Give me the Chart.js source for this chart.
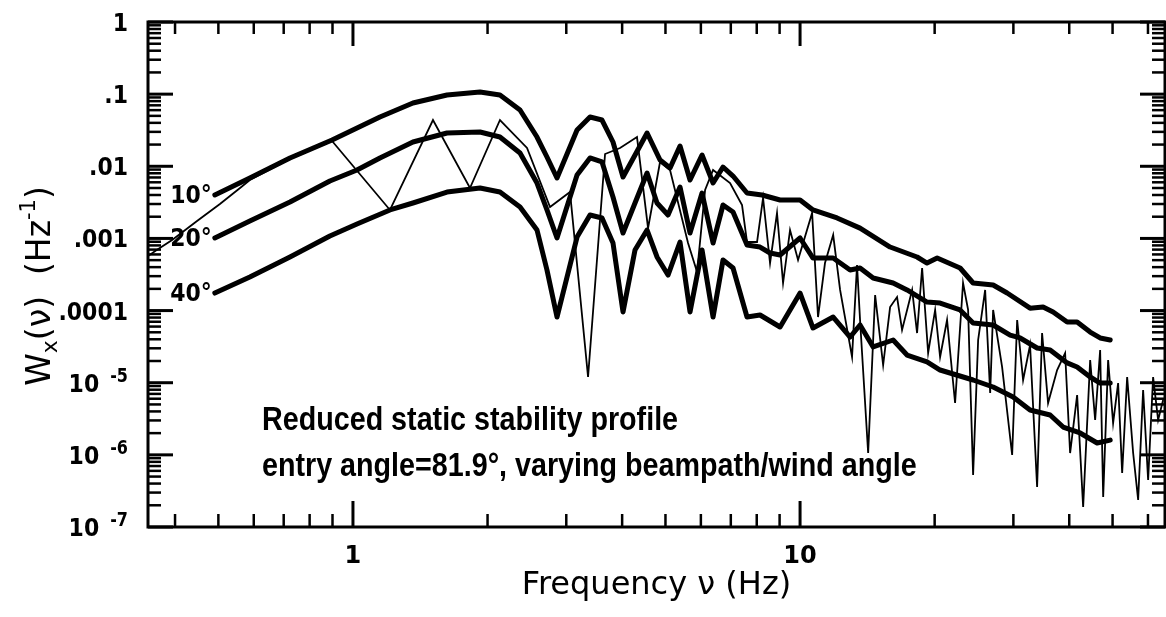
<!DOCTYPE html>
<html>
<head>
<meta charset="utf-8">
<title>W_x spectrum</title>
<script src="https://cdn.jsdelivr.net/npm/chart.js@4.4.1/dist/chart.umd.min.js"></script>
<style>
  html, body { margin: 0; padding: 0; background: #fff; }
  #chart { display: block; }
</style>
</head>
<body>
<canvas id="chart" width="1166" height="617"></canvas>
<script>
// model curves (thick)
const freq10 = [0.491, 0.588, 0.723, 0.898, 1.149, 1.362, 1.623, 1.924, 2.132, 2.364, 2.580, 2.716, 2.860, 3.171, 3.390, 3.606, 3.816, 4.018, 4.548, 4.862, 5.119, 5.389, 5.674, 6.036, 6.389, 6.725, 7.081, 7.610, 8.222, 9.022, 10.0, 10.69, 12.10, 13.62, 15.90, 18.27, 19.23, 20.26, 22.80, 24.38, 27.03, 29.05, 32.69, 34.96, 36.81, 39.57, 41.66, 44.55, 46.90, 49.39];
const w10 = [0.00400, 0.00688, 0.01303, 0.02313, 0.0482, 0.0754, 0.0973, 0.1071, 0.0973, 0.0603, 0.02545, 0.01345, 0.00688, 0.03184, 0.0482, 0.0438, 0.02171, 0.00710, 0.02893, 0.01222, 0.00946, 0.01911, 0.00645, 0.01433, 0.00586, 0.00977, 0.00733, 0.00426, 0.00400, 0.00341, 0.00341, 0.00248, 0.00192, 0.00139, 0.000760, 0.000553, 0.000456, 0.000535, 0.000389, 0.000241, 0.000226, 0.000175, 0.000108, 0.000112, 0.0000955, 0.0000694, 0.0000694, 0.0000504, 0.0000417, 0.0000391];

const freq20 = [0.491, 0.588, 0.723, 0.888, 1.021, 1.149, 1.362, 1.623, 1.924, 2.132, 2.364, 2.580, 2.716, 2.860, 3.171, 3.390, 3.606, 3.816, 4.018, 4.274, 4.548, 4.787, 5.066, 5.389, 5.674, 6.036, 6.389, 6.725, 7.081, 7.610, 8.137, 8.568, 9.022, 10.0, 10.69, 11.86, 12.94, 13.62, 14.57, 16.15, 17.35, 19.23, 20.57, 22.80, 24.38, 27.03, 29.50, 31.06, 33.90, 36.25, 39.57, 41.66, 44.55, 46.90, 49.39];
const w20 = [0.001014, 0.001743, 0.003197, 0.006249, 0.00888, 0.01303, 0.02171, 0.02893, 0.02987, 0.02545, 0.01528, 0.00586, 0.00248, 0.001014, 0.00757, 0.01303, 0.01147, 0.003751, 0.001189, 0.003097, 0.008069, 0.003097, 0.002112, 0.005162, 0.001189, 0.00426, 0.000864, 0.002906, 0.002324, 0.000811, 0.000760, 0.000628, 0.000589, 0.001014, 0.000535, 0.000535, 0.000365, 0.000389, 0.000283, 0.000241, 0.000193, 0.000131, 0.000127, 0.000102, 0.0000672, 0.0000631, 0.0000458, 0.0000417, 0.0000303, 0.0000284, 0.0000188, 0.0000165, 0.0000120, 0.0000099, 0.0000099];

const freq40 = [0.491, 0.588, 0.723, 0.888, 1.021, 1.210, 1.362, 1.623, 1.924, 2.132, 2.364, 2.580, 2.716, 2.860, 3.171, 3.390, 3.606, 3.816, 4.018, 4.274, 4.548, 4.787, 5.066, 5.389, 5.674, 6.036, 6.389, 6.725, 7.081, 7.610, 8.137, 9.022, 10.0, 10.69, 11.86, 12.94, 13.62, 14.57, 16.15, 17.35, 19.23, 20.57, 24.38, 27.03, 29.96, 32.69, 36.25, 38.76, 42.30, 46.18, 49.39];
const w40 = [0.000175, 0.000292, 0.000553, 0.001080, 0.001585, 0.00248, 0.003097, 0.00440, 0.00500, 0.00440, 0.002725, 0.001308, 0.000365, 0.0000814, 0.001046, 0.002112, 0.00192, 0.000864, 0.0000955, 0.000691, 0.001308, 0.000553, 0.000311, 0.000892, 0.0000955, 0.000691, 0.0000814, 0.000502, 0.000389, 0.0000814, 0.0000868, 0.0000592, 0.000175, 0.0000573, 0.0000814, 0.0000430, 0.0000631, 0.0000313, 0.0000391, 0.0000242, 0.0000194, 0.0000150, 0.0000109, 0.00000872, 0.00000633, 0.00000418, 0.00000357, 0.00000243, 0.00000201, 0.00000146, 0.00000160];

// measured spectrum (thin line)
const freqObs = [0.348, 0.364, 0.394, 0.448, 0.504, 0.559, 0.588, 0.723, 0.898, 1.210, 1.510, 1.827, 2.132, 2.451, 2.759, 3.058, 3.356, 3.663, 3.957, 4.318, 4.571, 4.862, 5.119, 5.616, 5.884, 6.132, 6.389, 6.973, 7.417, 7.610, 8.013, 8.265, 8.568, 8.881, 9.162, 9.497, 9.897, 10.64, 10.97, 11.37, 11.86, 12.29, 13.07, 13.41, 13.62, 14.20, 14.72, 15.34, 15.90, 16.48, 16.91, 17.81, 18.27, 18.75, 19.34, 20.05, 20.57, 21.32, 22.22, 23.15, 23.76, 24.38, 25.02, 25.94, 26.62, 27.03, 28.31, 29.81, 30.59, 31.54, 32.69, 33.90, 34.78, 35.87, 37.58, 39.16, 40.18, 41.66, 42.97, 44.55, 45.71, 46.90, 47.64, 48.87, 50.14, 51.45, 52.53, 53.90, 55.59, 57.04, 58.52, 60.05, 61.61, 63.22, 64.87];
const wObs = [0.000571, 0.000691, 0.000951, 0.001743, 0.003000, 0.00500, 0.00645, 0.01262, 0.02241, 0.00248, 0.0438, 0.00500, 0.0438, 0.01793, 0.002725, 0.00440, 0.0000120, 0.01480, 0.01793, 0.02545, 0.00139, 0.01147, 0.00888, 0.000864, 0.000342, 0.00469, 0.00888, 0.00586, 0.002906, 0.000892, 0.000892, 0.003634, 0.000456, 0.002251, 0.000241, 0.001308, 0.000502, 0.002251, 0.0000814, 0.000456, 0.001115, 0.000193, 0.0000227, 0.000428, 0.0000740, 1.06e-6, 0.000164, 0.0000176, 0.000112, 0.000154, 0.0000538, 0.000193, 0.0000488, 0.000389, 0.0000258, 0.000102, 0.0000227, 0.0000740, 0.00000523, 0.000241, 0.000102, 5.25e-7, 0.0000391, 0.000193, 0.0000072, 0.000102, 0.0000165, 9.95e-7, 0.0000740, 0.0000109, 0.0000333, 3.58e-7, 0.0000488, 0.00000523, 0.0000150, 0.0000258, 1.06e-6, 0.00000675, 1.89e-7, 0.0000206, 0.00000304, 0.0000284, 2.60e-7, 0.0000206, 0.00000276, 0.0000099, 5.60e-7, 0.0000120, 1.06e-6, 2.37e-7, 0.00000792, 4.48e-7, 0.0000120, 0.00000304, 0.00000576];

const curveLabels = ['10°', '20°', '40°'];

// axes
const X_MIN = 0.348, X_MAX = 65.5;
const Y_MIN = 1e-7, Y_MAX = 1;
const xMajorTicks = [1, 10];
const xTickLabels = ['1', '10'];
const xMinorTicks = [0.4, 0.5, 0.6, 0.7, 0.8, 0.9, 2, 3, 4, 5, 6, 7, 8, 9, 20, 30, 40, 50, 60];
const yMajorTicks = [1, 0.1, 0.01, 0.001, 1e-4, 1e-5, 1e-6, 1e-7];
const yTickLabels = ['1', '.1', '.01', '.001', '.0001', '10', '10', '10'];
const yTickExps = ['', '', '', '', '', '-5', '-6', '-7'];
const yMinorTicks = [];
for (let e = -7; e < 0; e++) {
  for (let m = 2; m <= 9; m++) yMinorTicks.push(m * Math.pow(10, e));
}

const noteLines = ['Reduced static stability profile', 'entry angle=81.9°, varying beampath/wind angle'];
const xTitle = 'Frequency ν (Hz)';

const FONT = "'DejaVu Sans', sans-serif";

function pts(xs, ys) {
  return xs.map((x, i) => ({ x, y: ys[i] }));
}

function thick(data) {
  return {
    data,
    borderColor: '#000',
    borderWidth: 5,
    pointRadius: 0,
    tension: 0,
    borderJoinStyle: 'round',
    borderCapStyle: 'round',
    fill: false,
  };
}

// text a bit taller than the font, like the plotter lettering
function tallText(ctx, text, x, y, sy) {
  ctx.save();
  ctx.translate(x, y);
  ctx.scale(1, sy);
  ctx.fillText(text, 0, 0);
  ctx.restore();
}

const decor = {
  id: 'decor',
  afterDraw(chart) {
    const { ctx, chartArea: a, scales: { x, y } } = chart;
    ctx.save();
    ctx.strokeStyle = '#000';
    ctx.fillStyle = '#000';
    ctx.lineCap = 'butt';

    function line(x1, y1, x2, y2, w) {
      ctx.lineWidth = w;
      ctx.beginPath();
      ctx.moveTo(x1, y1);
      ctx.lineTo(x2, y2);
      ctx.stroke();
    }

    // inward ticks on all four sides
    xMajorTicks.forEach((v) => {
      const px = x.getPixelForValue(v);
      line(px, a.bottom, px, a.bottom - 26, 3);
      line(px, a.top, px, a.top + 24, 3);
    });
    xMinorTicks.forEach((v) => {
      const px = x.getPixelForValue(v);
      line(px, a.bottom, px, a.bottom - 13, 2.5);
      line(px, a.top, px, a.top + 12, 2.5);
    });
    yMajorTicks.forEach((v) => {
      const py = y.getPixelForValue(v);
      line(a.left, py, a.left + 25, py, 3);
      line(a.right, py, a.right - 25, py, 3);
    });
    yMinorTicks.forEach((v) => {
      const py = y.getPixelForValue(v);
      line(a.left, py, a.left + 13, py, 2.5);
      line(a.right, py, a.right - 13, py, 2.5);
    });

    ctx.lineWidth = 3;
    ctx.strokeRect(a.left, a.top, a.right - a.left, a.bottom - a.top);

    // y tick labels, powers drawn with a raised exponent
    const labRight = a.left - 20;
    ctx.textBaseline = 'alphabetic';
    ctx.textAlign = 'right';
    yMajorTicks.forEach((v, i) => {
      const py = y.getPixelForValue(v);
      let rx = labRight;
      if (yTickExps[i]) {
        ctx.font = 'bold 16px ' + FONT;
        tallText(ctx, yTickExps[i], rx, py - 1, 1.2);
        rx -= ctx.measureText(yTickExps[i]).width + 11;
      }
      ctx.font = 'bold 22px ' + FONT;
      tallText(ctx, yTickLabels[i], rx, py + 9, 1.15);
    });

    // curve labels at the start of each model curve
    ctx.font = 'bold 22px ' + FONT;
    curveLabels.forEach((t, i) => {
      const p = chart.getDatasetMeta(i).data[0];
      tallText(ctx, t, p.x - 3, p.y + 8, 1.15);
    });

    // note text
    ctx.textAlign = 'left';
    ctx.font = 'bold 100px ' + "'Liberation Sans', sans-serif";
    const size = 100 * 654 / ctx.measureText(noteLines[1]).width;
    ctx.font = 'bold ' + size.toFixed(1) + "px 'Liberation Sans', sans-serif";
    tallText(ctx, noteLines[0], a.left + 114, a.top + 408, 1.15);
    tallText(ctx, noteLines[1], a.left + 114, a.top + 454, 1.15);

    // rotated y title: W_x(ν) (Hz^-1)
    const parts = [
      { t: 'W', s: 33, dy: 0 },
      { t: 'x', s: 22, dy: 7 },
      { t: '(ν)', s: 33, dy: 0 },
      { t: '  (Hz', s: 33, dy: 0 },
      { t: '-1', s: 21, dy: -15 },
      { t: ')', s: 33, dy: 0 },
    ];
    let total = 0;
    parts.forEach((p) => {
      ctx.font = p.s + 'px ' + FONT;
      p.w = ctx.measureText(p.t).width;
      total += p.w;
    });
    ctx.translate(50, 286);
    ctx.rotate(-Math.PI / 2);
    let cx = -total / 2;
    parts.forEach((p) => {
      ctx.font = p.s + 'px ' + FONT;
      ctx.fillText(p.t, cx, p.dy);
      cx += p.w;
    });
    ctx.restore();
  },
};

new Chart(document.getElementById('chart'), {
  type: 'line',
  data: {
    datasets: [
      thick(pts(freq10, w10)),
      thick(pts(freq20, w20)),
      thick(pts(freq40, w40)),
      {
        data: pts(freqObs, wObs),
        borderColor: '#000',
        borderWidth: 1.8,
        pointRadius: 0,
        tension: 0,
        fill: false,
      },
    ],
  },
  options: {
    responsive: false,
    animation: false,
    devicePixelRatio: 1,
    layout: { padding: { top: 22, right: 1, left: 0, bottom: 0 } },
    plugins: { legend: { display: false }, tooltip: { enabled: false } },
    scales: {
      x: {
        type: 'logarithmic',
        bounds: 'data',
        min: X_MIN,
        max: X_MAX,
        afterFit(s) { s.height = 90; },
        afterBuildTicks(s) {
          s.ticks = xMajorTicks.concat(xMinorTicks).sort((p, q) => p - q).map((v) => ({ value: v }));
        },
        ticks: {
          autoSkip: false,
          maxRotation: 0,
          padding: 15,
          color: '#000',
          font: { family: FONT, size: 24, weight: 'bold' },
          callback(v) {
            const i = xMajorTicks.indexOf(v);
            return i >= 0 ? xTickLabels[i] : '';
          },
        },
        grid: { display: false, drawTicks: false },
        border: { display: false },
        title: {
          display: true,
          text: xTitle,
          color: '#000',
          font: { family: FONT, size: 32 },
          padding: { top: 0, bottom: 12 },
        },
      },
      y: {
        type: 'logarithmic',
        bounds: 'data',
        min: Y_MIN,
        max: Y_MAX,
        afterFit(s) { s.width = 148; },
        ticks: { display: false },
        grid: { display: false, drawTicks: false },
        border: { display: false },
      },
    },
  },
  plugins: [decor],
});
</script>
</body>
</html>
